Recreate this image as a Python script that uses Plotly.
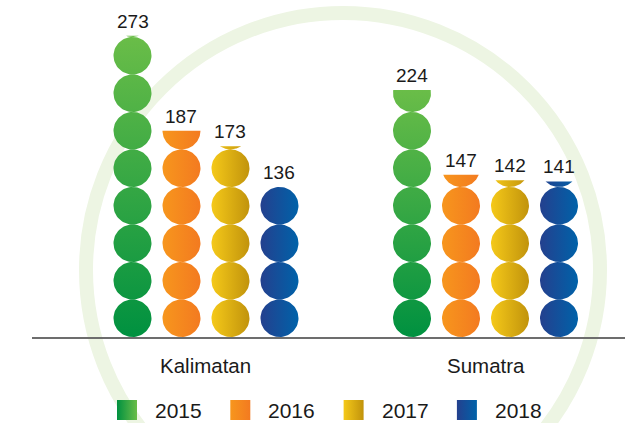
import numpy as np
import plotly.graph_objects as go

# ---------------- data ----------------
regions = ["Kalimatan", "Sumatra"]
years = ["2015", "2016", "2017", "2018"]
v2015 = [273, 224]
v2016 = [187, 147]
v2017 = [173, 142]
v2018 = [136, 141]
series = [v2015, v2016, v2017, v2018]

UNIT = 34  # value represented by one full circle

# ---------------- style ----------------
W, H = 625, 423
grad = {
    "2015": ("vertical", [[0, "#009140"], [1, "#6abd48"]]),
    "2016": ("horizontal", [[0, "#f7961d"], [1, "#f37a20"]]),
    "2017": ("horizontal", [[0, "#f5c919"], [1, "#c1930c"]]),
    "2018": ("horizontal", [[0, "#24408e"], [1, "#0062a9"]]),
}
legend_grad = {
    "2015": [[0, "#009140"], [1, "#6abd48"]],
    "2016": [[0, "#f7961d"], [1, "#f37a20"]],
    "2017": [[0, "#f5c919"], [1, "#c1930c"]],
    "2018": [[0, "#24408e"], [1, "#0062a9"]],
}
TXT = "#1a1a1a"
FONT = "Liberation Sans, Arial, Helvetica, sans-serif"

STEP = 0.1753   # spacing of columns inside a group (x units)
RX = 0.068      # horizontal radius of a circle (x units)
RY = UNIT / 2   # vertical radius (y units)

x_range = [-0.6225, 1.4991]
y_range = [0, 305.5]

LEG_PX = 113.3           # legend item pitch in pixels
LEG_HX = 10 / LEG_PX     # half square width (x2 units)
LEG_HY = 10 / 13.0       # half square height (y2 units)


def column_poly(xc, value):
    xs, ys = [], []
    n_full = int(value // UNIT)
    frac = value / UNIT - n_full
    th = np.linspace(0, 2 * np.pi, 73)
    for k in range(n_full):
        cy = (k + 0.5) * UNIT
        xs += list(xc + RX * np.cos(th)) + [None]
        ys += list(cy + RY * np.sin(th)) + [None]
    if frac > 0.01:
        cy = (n_full + 0.5) * UNIT
        top = (n_full + frac) * UNIT
        s = np.clip((top - cy) / RY, -1, 1)
        t0 = np.arcsin(s)
        th2 = np.linspace(t0, -np.pi - t0, 61)
        px = list(xc + RX * np.cos(th2))
        py = list(cy + RY * np.sin(th2))
        xs += px + [px[0], None]
        ys += py + [py[0], None]
    return xs, ys


fig = go.Figure()

for gi, region in enumerate(regions):
    for si, yr in enumerate(years):
        val = series[si][gi]
        xc = gi + (si - 1.5) * STEP
        xs, ys = column_poly(xc, val)
        gtype, cs = grad[yr]
        fig.add_trace(go.Scatter(
            x=xs, y=ys, mode="lines", fill="toself",
            line=dict(width=0, color=cs[0][1]),
            fillcolor=cs[0][1],
            fillgradient=dict(type=gtype, colorscale=cs),
            hoverinfo="skip", showlegend=False, name=f"{region} {yr}",
        ))
        fig.add_annotation(
            x=xc, y=val, xref="x", yref="y", text=str(val),
            showarrow=False, yanchor="bottom", yshift=2,
            font=dict(size=19, color=TXT, family=FONT),
        )
    fig.add_annotation(
        x=gi, y=(H - 365) / H, xref="x", yref="paper", text=region,
        showarrow=False, yanchor="middle", xanchor="center",
        font=dict(size=20.5, color=TXT, family=FONT),
    )

# legend (drawn on its own small axis)
for si, yr in enumerate(years):
    cs = legend_grad[yr]
    fig.add_trace(go.Scatter(
        x=[si - LEG_HX, si + LEG_HX, si + LEG_HX, si - LEG_HX, si - LEG_HX],
        y=[-LEG_HY, -LEG_HY, LEG_HY, LEG_HY, -LEG_HY],
        xaxis="x2", yaxis="y2", mode="lines", fill="toself",
        line=dict(width=0, color=cs[0][1]), fillcolor=cs[0][1],
        fillgradient=dict(type="horizontal", colorscale=cs),
        hoverinfo="skip", showlegend=False, name=yr,
    ))
    fig.add_annotation(
        x=si, y=0, xref="x2", yref="y2", text=yr, showarrow=False,
        xanchor="left", yanchor="middle", xshift=26,
        font=dict(size=21, color=TXT, family=FONT),
    )

# background ring
fig.add_shape(
    type="circle", xref="paper", yref="paper", layer="below",
    x0=(343 - 257) / W, x1=(343 + 257) / W,
    y0=(H - 270 - 257) / H, y1=(H - 270 + 257) / H,
    line=dict(color="#edf5e3", width=14),
)

fig.update_layout(
    width=W, height=H,
    margin=dict(l=0, r=0, t=0, b=0),
    paper_bgcolor="white", plot_bgcolor="rgba(0,0,0,0)",
    showlegend=False,
    xaxis=dict(domain=[32 / W, 1], range=x_range, showgrid=False,
               zeroline=False, showticklabels=False, ticks="",
               showline=True, linecolor="#6d6d6d", linewidth=1.5,
               fixedrange=True),
    yaxis=dict(domain=[(H - 337) / H, 1], range=y_range, showgrid=False,
               zeroline=False, showticklabels=False, ticks="",
               showline=False, fixedrange=True),
    xaxis2=dict(domain=[0, 1], range=[-127 / LEG_PX, (625 - 127) / LEG_PX],
                anchor="y2", visible=False, fixedrange=True),
    yaxis2=dict(domain=[0, 26 / H], range=[-1, 1], anchor="x2",
                visible=False, fixedrange=True),
)

fig.write_html(
    "out.html",
    config={"displayModeBar": False},
    post_script="document.body.style.margin='0';document.body.style.overflow='hidden';",
)
